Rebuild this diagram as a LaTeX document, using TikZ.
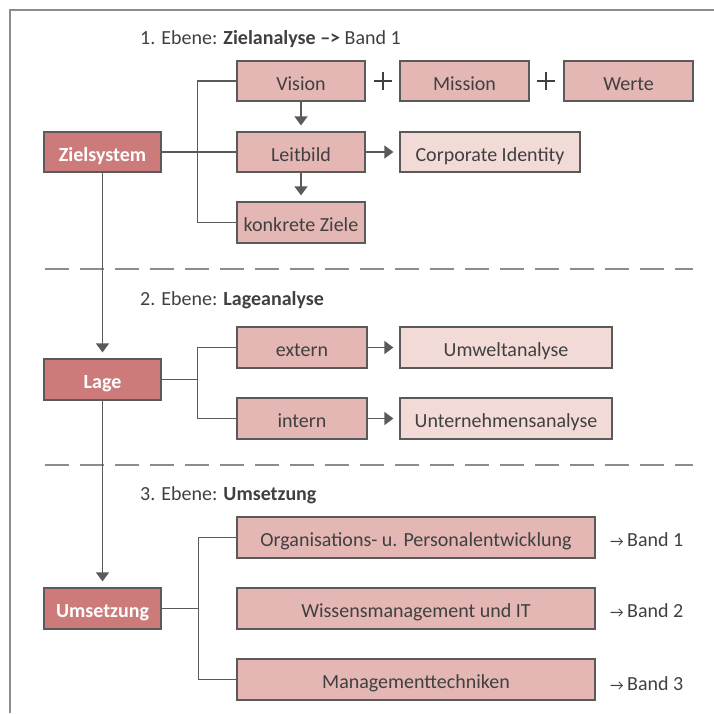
\documentclass[tikz,border=0pt]{standalone}
\usepackage{fontspec}
\setmainfont{Carlito}
\usetikzlibrary{arrows.meta}
\definecolor{darkred}{RGB}{204,122,122}
\definecolor{midred}{RGB}{228,183,180}
\definecolor{lightred}{RGB}{242,218,215}
\definecolor{bordergray}{RGB}{90,90,90}
\definecolor{linegray}{RGB}{90,90,90}
\definecolor{textgray}{RGB}{64,64,64}
\definecolor{framegray}{RGB}{140,140,140}
\newcommand{\fs}{\fontsize{20}{22}\selectfont}
\tikzset{
  box/.style={draw=bordergray, line width=1.2pt, minimum height=40, inner sep=0pt, text=textgray, font=\fs, text height=18pt, text depth=0pt},
  darkbox/.style={box, fill=darkred, text=white, font=\fs\bfseries, minimum width=117},
  midbox/.style={box, fill=midred},
  lightbox/.style={box, fill=lightred},
  conn/.style={draw=linegray, line width=1.2pt},
  arr/.style={conn, -{Triangle[width=13pt,length=9pt]}, shorten >=6pt},
  lbl/.style={anchor=base west, text=textgray, font=\fs, inner sep=0pt},
  sep/.style={draw=framegray, line width=1.2pt, dash pattern=on 24pt off 11pt},
  plus/.style={draw=textgray, line width=1.3pt}
}
\begin{document}
\begin{tikzpicture}[x=1pt,y=-1pt]
\useasboundingbox (0,0) rectangle (714,713);
% frame
\draw[draw=framegray, line width=1.5pt] (10,713) -- (10,10) -- (714,10);

% level 1
\node[lbl] (t1) at (140,44) {1. Ebene: \textbf{Zielanalyse –>} Band 1};
\node[midbox, minimum width=128] (vision) at (301,81) {Vision};
\node[midbox, minimum width=129] (mission) at (464.5,81) {Mission};
\node[midbox, minimum width=129] (werte) at (628.5,81) {Werte};
\draw[plus] (374,81) -- (392,81) (383,72) -- (383,90);
\draw[plus] (537,81) -- (555,81) (546,72) -- (546,90);
\node[midbox, minimum width=128] (leitbild) at (301,152) {Leitbild};
\node[lightbox, minimum width=180] (ci) at (490,152) {Corporate Identity};
\node[midbox, minimum width=128, minimum height=41] (ziele) at (301,222.5) {konkrete Ziele};
\node[darkbox] (zielsystem) at (102.5,152) {Zielsystem};

\draw[conn] (vision.west) -- ++(-39,0) |- (ziele.west);
\draw[conn] (zielsystem.east) -- (leitbild.west);
\draw[arr] (vision.south) -- (leitbild.north);
\draw[arr] (leitbild.south) -- (ziele.north);
\draw[arr] (leitbild.east) -- (ci.west);

\draw[sep] (45,269) -- (693,269);

% level 2
\node[lbl] (t2) at (140,305) {2. Ebene: \textbf{Lageanalyse}};
\node[midbox, minimum width=130, minimum height=41] (extern) at (302,347.5) {extern};
\node[lightbox, minimum width=212, minimum height=41] (umwelt) at (506,347.5) {Umweltanalyse};
\node[midbox, minimum width=130, minimum height=41] (intern) at (302,418.5) {intern};
\node[lightbox, minimum width=212, minimum height=41] (unternehmen) at (506,418.5) {Unternehmensanalyse};
\node[darkbox, minimum height=41] (lage) at (102.5,379.5) {Lage};
\coordinate (b2) at (198,379.5);

\draw[conn] (extern.west) -- ++(-39,0) |- (intern.west);
\draw[conn] (lage.east) -- (b2);
\draw[arr] (extern.east) -- (umwelt.west);
\draw[arr] (intern.east) -- (unternehmen.west);
\draw[arr] (zielsystem.south) -- (lage.north);

\draw[sep] (45,465) -- (693,465);

% level 3
\node[lbl] (t3) at (140,500) {3. Ebene: \textbf{Umsetzung}};
\node[midbox, minimum width=358, minimum height=41] (org) at (416,537.5) {Organisations- u. Personalentwicklung};
\node[midbox, minimum width=358, minimum height=41] (wissen) at (416,608.5) {Wissensmanagement und IT};
\node[midbox, minimum width=358, minimum height=41] (mgmt) at (416,679.5) {Managementtechniken};
\node[darkbox, minimum height=41] (umsetzung) at (102.5,608.5) {Umsetzung};
\coordinate (b3) at (199,608.5);

\draw[conn] (org.west) -- ++(-38,0) |- (mgmt.west);
\draw[conn] (umsetzung.east) -- (b3);
\draw[arr] (lage.south) -- (umsetzung.north);

\node[lbl] (band1) at (610,546) {{\fontsize{15}{15}\selectfont →}\,Band 1};
\node[lbl] (band2) at (610,617) {{\fontsize{15}{15}\selectfont →}\,Band 2};
\node[lbl] (band3) at (610,690) {{\fontsize{15}{15}\selectfont →}\,Band 3};
\end{tikzpicture}
\end{document}
